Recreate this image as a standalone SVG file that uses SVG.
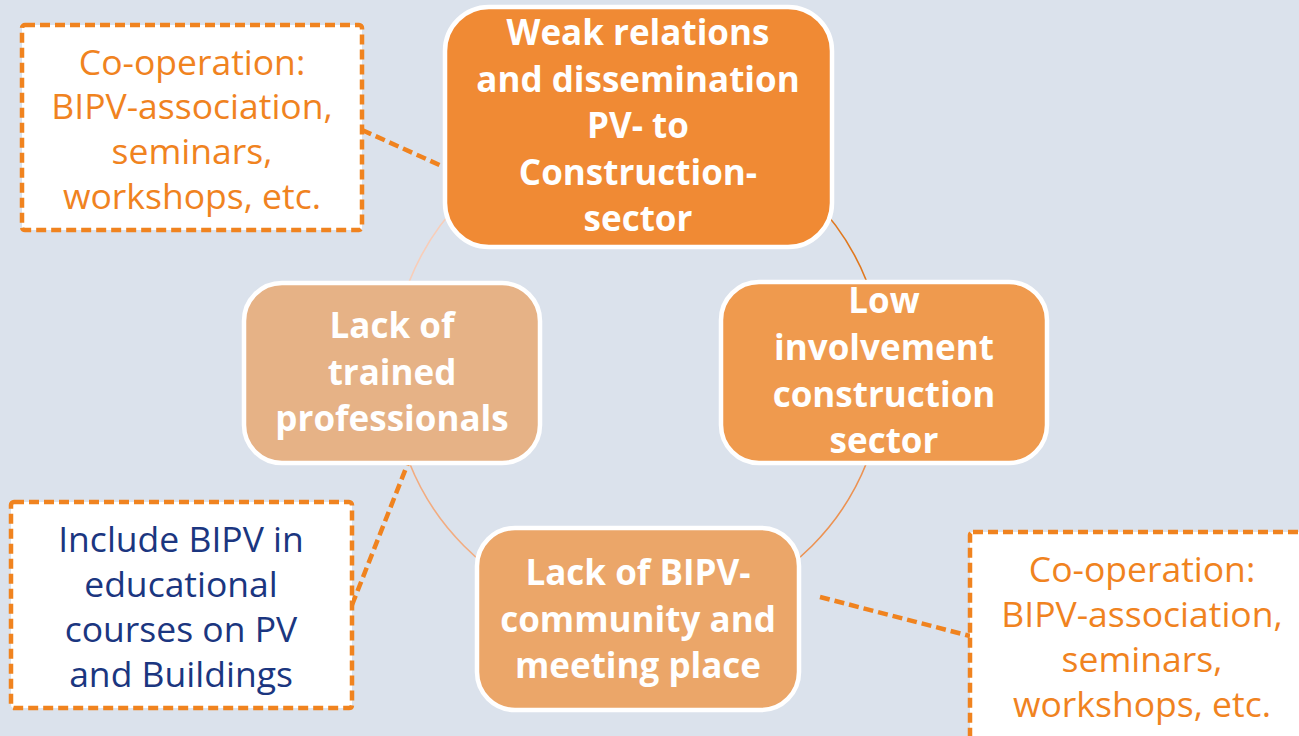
<svg xmlns="http://www.w3.org/2000/svg" width="1299" height="736" viewBox="0 0 1299 736">
<style>
.node{stroke:#FFFFFF;stroke-width:4.5}
.nt{font-family:"Open Sans","Noto Sans","DejaVu Sans",sans-serif;font-weight:bold;font-size:35px;fill:#FFFFFF;text-anchor:middle}
.note{fill:#FFFFFF;stroke:#F0831F;stroke-width:4.5;stroke-dasharray:10 5}
.ot{font-family:"Open Sans","Noto Sans","DejaVu Sans",sans-serif;font-size:35.5px;fill:#F0831F;text-anchor:middle}
.bt{font-family:"Open Sans","Noto Sans","DejaVu Sans",sans-serif;font-size:35.5px;fill:#1B3680;text-anchor:middle}
.dl{fill:none;stroke:#F0831F;stroke-width:4.5;stroke-dasharray:10 5}
.arc{fill:none;stroke-width:1.6}
</style>
<rect width="1299" height="736" fill="#DBE2EC"/>
<g id="connectors">
<path class="arc" d="M 638 126 A 246 246 0 0 1 884 372" stroke="#E0781E"/>
<path class="arc" d="M 884 372 A 246 246 0 0 1 638 618" stroke="#EC9252"/>
<path class="arc" d="M 638 618 A 246 246 0 0 1 392 372" stroke="#F2AC80"/>
<path class="arc" d="M 392 372 A 246 246 0 0 1 638 126" stroke="#F8CDB8"/>
<line class="dl" x1="362" y1="130" x2="455" y2="172"/>
<line class="dl" x1="352" y1="605" x2="408" y2="463"/>
<line class="dl" x1="820" y1="597" x2="970" y2="636"/>
</g>
<g id="node-weak-relations">
<rect class="node" x="445" y="7" width="387" height="240" rx="44" fill="#F08A34"/>
<text class="nt" x="638" y="45">Weak relations</text>
<text class="nt" x="638" y="92">and dissemination</text>
<text class="nt" x="638" y="138">PV- to</text>
<text class="nt" x="638" y="185">Construction-</text>
<text class="nt" x="638" y="231">sector</text>
</g>
<g id="node-low-involvement">
<rect class="node" x="721" y="282" width="326" height="181" rx="38" fill="#EF9A4E"/>
<text class="nt" x="884" y="313">Low</text>
<text class="nt" x="884" y="360">involvement</text>
<text class="nt" x="884" y="407">construction</text>
<text class="nt" x="884" y="453">sector</text>
</g>
<g id="node-community">
<rect class="node" x="477" y="528" width="322" height="182" rx="38" fill="#EBA669"/>
<text class="nt" x="638" y="585">Lack of BIPV-</text>
<text class="nt" x="638" y="632">community and</text>
<text class="nt" x="638" y="678">meeting place</text>
</g>
<g id="node-professionals">
<rect class="node" x="244" y="283" width="296" height="180" rx="38" fill="#E6B286"/>
<text class="nt" x="392" y="338">Lack of</text>
<text class="nt" x="392" y="385">trained</text>
<text class="nt" x="392" y="431">professionals</text>
</g>
<g id="note-cooperation-top">
<rect class="note" x="22" y="25" width="340" height="205" rx="3"/>
<text class="ot" x="192" y="75">Co-operation:</text>
<text class="ot" x="192" y="119">BIPV-association,</text>
<text class="ot" x="192" y="164">seminars,</text>
<text class="ot" x="192" y="209">workshops, etc.</text>
</g>
<g id="note-education">
<rect class="note" x="11" y="502" width="341" height="206" rx="3"/>
<text class="bt" x="181" y="552">Include BIPV in</text>
<text class="bt" x="181" y="597">educational</text>
<text class="bt" x="181" y="642">courses on PV</text>
<text class="bt" x="181" y="687">and Buildings</text>
</g>
<g id="note-cooperation-bottom">
<rect class="note" x="970" y="532" width="344" height="220" rx="3"/>
<text class="ot" x="1142" y="582">Co-operation:</text>
<text class="ot" x="1142" y="627">BIPV-association,</text>
<text class="ot" x="1142" y="672">seminars,</text>
<text class="ot" x="1142" y="717">workshops, etc.</text>
</g>
</svg>
